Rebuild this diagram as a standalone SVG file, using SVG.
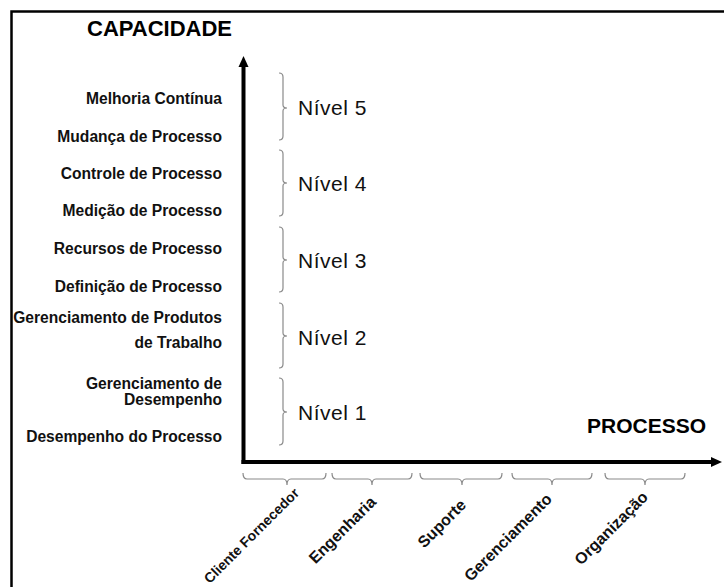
<svg xmlns="http://www.w3.org/2000/svg" width="724" height="587" viewBox="0 0 724 587">
<style>
.lbl{font-family:"Liberation Sans",Arial,sans-serif;font-weight:bold;font-size:15.6px;fill:#111;text-anchor:end}
.ttl{font-family:"Liberation Sans",Arial,sans-serif;font-weight:bold;font-size:22px;fill:#000}
.niv{font-family:"Liberation Sans",Arial,sans-serif;font-size:21px;letter-spacing:0.5px;fill:#111}
.brace{fill:none;stroke:#8a8a8a;stroke-width:1.2}
.axis{fill:none;stroke:#000;stroke-width:4}
.cat{font-family:"Liberation Sans",Arial,sans-serif;font-weight:bold;font-size:16px;fill:#111;text-anchor:end}
</style>
<defs>
<marker id="ah" markerUnits="userSpaceOnUse" markerWidth="12" markerHeight="12" refX="1" refY="6" orient="auto">
<path d="M0,1 L11,6 L0,11 Z" fill="#000"/>
</marker>
</defs>
<rect width="724" height="587" fill="#fff"/>
<rect x="11.5" y="11.5" width="800" height="700" fill="none" stroke="#000" stroke-width="2.5"/>

<g id="connectors">
<path class="axis" d="M243.5,464 L243.5,66" marker-end="url(#ah)"/>
<path class="axis" d="M241.5,462 L712,462" marker-end="url(#ah)"/>
</g>

<g id="capacidade"><text class="ttl" x="87" y="36">CAPACIDADE</text></g>
<g id="processo"><text class="ttl" x="587" y="433" style="font-size:21px">PROCESSO</text></g>

<g id="melhoria"><text class="lbl" x="222" y="103.5">Melhoria Contínua</text></g>
<g id="mudanca"><text class="lbl" x="222" y="141.5">Mudança de Processo</text></g>
<g id="controle"><text class="lbl" x="222" y="178.5">Controle de Processo</text></g>
<g id="medicao"><text class="lbl" x="222" y="215.5">Medição de Processo</text></g>
<g id="recursos"><text class="lbl" x="222" y="253.5">Recursos de Processo</text></g>
<g id="definicao"><text class="lbl" x="222" y="291.5">Definição de Processo</text></g>
<g id="produtos"><text class="lbl" x="222" y="322.5">Gerenciamento de Produtos</text><text class="lbl" x="222" y="347.5">de Trabalho</text></g>
<g id="gdesempenho"><text class="lbl" x="222" y="388.5">Gerenciamento de</text><text class="lbl" x="222" y="404.5">Desempenho</text></g>
<g id="dprocesso"><text class="lbl" x="222" y="441.5">Desempenho do Processo</text></g>

<g id="nivel5"><path class="brace" d="M279,73 Q283,73 283,77 L283,105 Q283,108 287,108 Q283,108 283,111 L283,136 Q283,140 279,140"/><text class="niv" x="298" y="115">Nível 5</text></g>
<g id="nivel4"><path class="brace" d="M279,150 Q283,150 283,154 L283,180 Q283,183 287,183 Q283,183 283,186 L283,212 Q283,216 279,216"/><text class="niv" x="298" y="191">Nível 4</text></g>
<g id="nivel3"><path class="brace" d="M279,227 Q283,227 283,231 L283,257 Q283,260 287,260 Q283,260 283,263 L283,288 Q283,292 279,292"/><text class="niv" x="298" y="268">Nível 3</text></g>
<g id="nivel2"><path class="brace" d="M279,303 Q283,303 283,307 L283,333 Q283,336 287,336 Q283,336 283,339 L283,364 Q283,368 279,368"/><text class="niv" x="298" y="345">Nível 2</text></g>
<g id="nivel1"><path class="brace" d="M279,378 Q283,378 283,382 L283,409 Q283,412 287,412 Q283,412 283,415 L283,441 Q283,445 279,445"/><text class="niv" x="298" y="420">Nível 1</text></g>

<g id="cliente"><path class="brace" d="M243,473 Q243,479 247,479 L283,479 Q287,479 287,485 Q287,479 291,479 L322,479 Q326,479 326,473"/><text class="cat" transform="translate(300,494) rotate(-45)" style="font-size:14px">Cliente Fornecedor</text></g>
<g id="engenharia"><path class="brace" d="M332,473 Q332,479 336,479 L368,479 Q372,479 372,485 Q372,479 376,479 L408,479 Q412,479 412,473"/><text class="cat" transform="translate(377,503) rotate(-45)">Engenharia</text></g>
<g id="suporte"><path class="brace" d="M420,473 Q420,479 424,479 L458,479 Q462,479 462,485 Q462,479 466,479 L498,479 Q502,479 502,473"/><text class="cat" transform="translate(467,506) rotate(-45)">Suporte</text></g>
<g id="gerenciamento"><path class="brace" d="M512,473 Q512,479 516,479 L548,479 Q552,479 552,485 Q552,479 556,479 L588,479 Q592,479 592,473"/><text class="cat" transform="translate(553,500) rotate(-45)">Gerenciamento</text></g>
<g id="organizacao"><path class="brace" d="M605,473 Q605,479 609,479 L641,479 Q645,479 645,485 Q645,479 649,479 L681,479 Q685,479 685,473"/><text class="cat" transform="translate(649,498) rotate(-45)">Organização</text></g>
</svg>
